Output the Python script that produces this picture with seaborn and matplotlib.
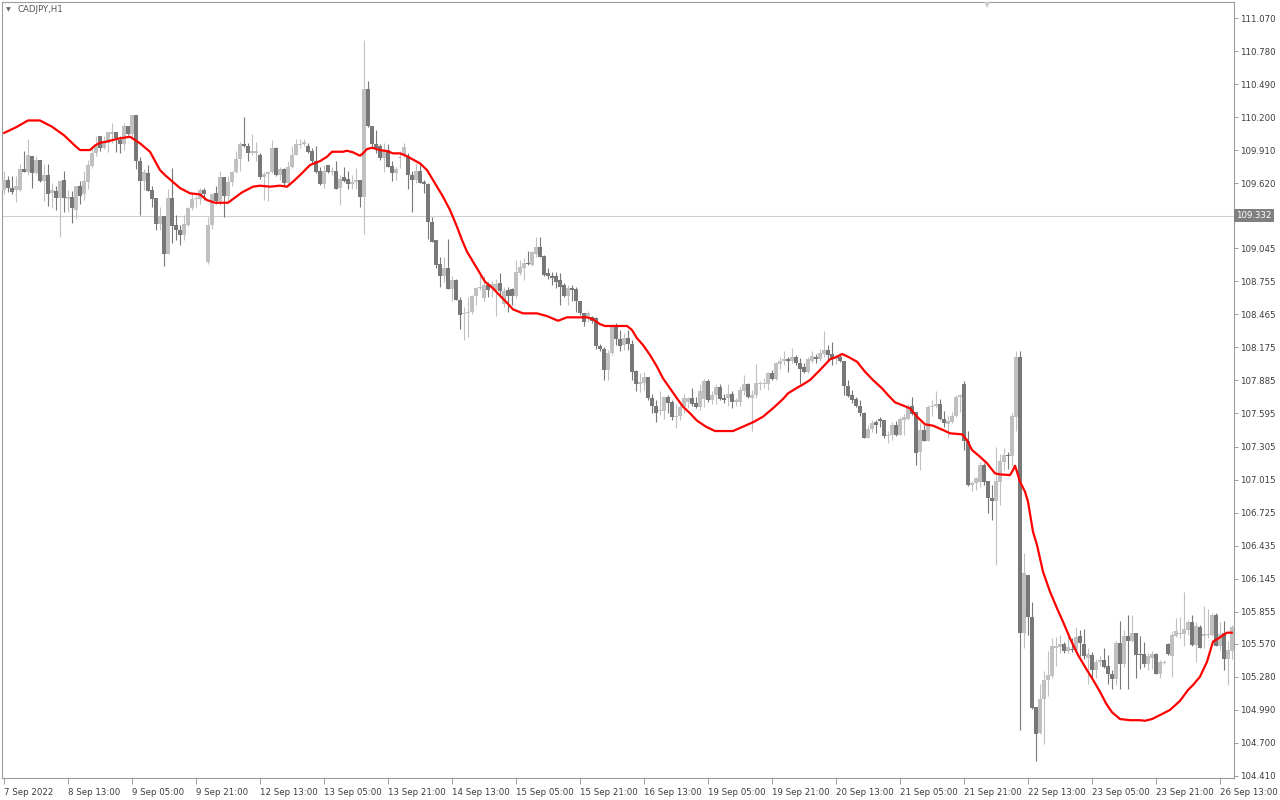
import matplotlib
matplotlib.use('Agg')
import matplotlib.pyplot as plt
import matplotlib.transforms as mtransforms
import numpy as np
import pandas as pd
import seaborn as sns

# ── CADJPY H1 bars, bar 0 = 7 Sep 2022 21:00 ────────────────────────────────
opens = [
    109.56, 109.65, 109.58, 109.56, 109.56, 109.74, 109.72, 109.86, 109.71, 109.82,
    109.64, 109.69, 109.53, 109.55, 109.49, 109.65, 109.48, 109.50, 109.38, 109.59,
    109.52, 109.63, 109.77, 109.88, 110.03, 109.93, 109.97, 110.05, 110.07, 110.00,
    109.96, 110.12, 110.05, 110.22, 109.81, 109.64, 109.71, 109.56, 109.49, 109.26,
    109.33, 109.00, 109.49, 109.25, 109.21, 109.16, 109.25, 109.40, 109.48, 109.48,
    109.56, 108.93, 109.25, 109.53, 109.46, 109.67, 109.51, 109.63, 109.72, 109.83,
    109.96, 109.95, 109.88, 109.88, 109.87, 109.67, 109.70, 109.72, 109.93, 109.69,
    109.74, 109.62, 109.76, 109.87, 109.955, 109.96, 109.95, 109.90, 109.81, 109.73,
    109.61, 109.78, 109.72, 109.73, 109.58, 109.67, 109.66, 109.61, 109.63, 109.65,
    109.50, 110.45, 110.12, 109.96, 109.945, 109.84, 109.91, 109.77, 109.71, 109.84,
    109.87, 109.86, 109.69, 109.65, 109.73, 109.63, 109.61, 109.28, 109.12, 108.91,
    108.80, 108.87, 108.69, 108.77, 108.59, 108.47, 108.475, 108.49, 108.63, 108.70,
    108.61, 108.72, 108.71, 108.68, 108.74, 108.56, 108.68, 108.69, 108.63, 108.83,
    108.87, 108.92, 108.90, 109.00, 109.06, 108.98, 108.83, 108.80, 108.80, 108.77,
    108.72, 108.63, 108.70, 108.69, 108.58, 108.48, 108.44, 108.44, 108.43, 108.19,
    108.16, 107.98, 108.13, 108.36, 108.25, 108.20, 108.26, 108.21, 107.97, 107.85,
    107.86, 107.92, 107.73, 107.66, 107.62, 107.62, 107.74, 107.70, 107.56, 107.57,
    107.65, 107.70, 107.73, 107.69, 107.65, 107.72, 107.88, 107.71, 107.76, 107.83,
    107.73, 107.73, 107.77, 107.70, 107.70, 107.79, 107.85, 107.73, 107.76, 107.85,
    107.85, 107.85, 107.95, 107.90, 108.03, 108.06, 108.07, 108.06, 108.09, 108.04,
    108.00, 107.96, 108.06, 108.09, 108.07, 108.12, 108.15, 108.12, 108.07, 108.09,
    108.06, 107.84, 107.76, 107.72, 107.66, 107.60, 107.38, 107.46, 107.52, 107.55,
    107.54, 107.40, 107.41, 107.49, 107.41, 107.54, 107.55, 107.66, 107.61, 107.26,
    107.45, 107.35, 107.65, 107.66, 107.68, 107.55, 107.50, 107.52, 107.57, 107.74,
    107.85, 107.35, 106.97, 106.98, 106.99, 107.14, 107.00, 106.85, 106.83, 106.99,
    107.17, 107.23, 107.22, 107.56, 108.09, 105.67, 106.18, 105.81, 105.02, 104.79,
    105.09, 105.25, 105.29, 105.53, 105.54, 105.57, 105.51, 105.525, 105.52, 105.64,
    105.57, 105.45, 105.47, 105.34, 105.41, 105.43, 105.38, 105.31, 105.26, 105.58,
    105.39, 105.64, 105.60, 105.67, 105.48, 105.48, 105.39, 105.45, 105.48, 105.31,
    105.40, 105.57, 105.46, 105.64, 105.66, 105.66, 105.69, 105.76, 105.56, 105.72,
    105.64, 105.65, 105.65, 105.82, 105.55, 105.67, 105.44, 105.51,
]
highs = [
    109.73, 109.68, 109.68, 109.68, 109.79, 109.90, 110.01, 109.86, 109.86, 109.82,
    109.79, 109.79, 109.62, 109.59, 109.65, 109.73, 109.56, 109.55, 109.59, 109.64,
    109.73, 109.82, 109.93, 110.03, 110.03, 110.03, 110.07, 110.15, 110.07, 110.03,
    110.15, 110.12, 110.22, 110.22, 109.85, 109.74, 109.78, 109.59, 109.49, 109.41,
    109.33, 109.57, 109.75, 109.34, 109.25, 109.34, 109.41, 109.53, 109.51, 109.58,
    109.58, 109.32, 109.53, 109.59, 109.73, 109.67, 109.68, 109.73, 109.90, 109.98,
    110.20, 109.97, 110.05, 109.98, 109.88, 109.72, 109.73, 110.00, 109.94, 109.76,
    109.75, 109.81, 109.95, 110.01, 110.01, 110.01, 109.97, 109.93, 109.95, 109.76,
    109.78, 109.78, 109.76, 109.81, 109.69, 109.76, 109.73, 109.69, 109.75, 109.65,
    110.88, 110.52, 110.12, 110.09, 109.96, 109.97, 109.96, 109.81, 109.76, 109.90,
    109.97, 109.88, 109.73, 109.80, 109.79, 109.65, 109.62, 109.32, 109.12, 108.97,
    108.97, 109.13, 108.80, 108.78, 108.62, 108.53, 108.62, 108.64, 108.71, 108.83,
    108.80, 108.75, 108.76, 108.78, 108.83, 108.71, 108.71, 108.70, 108.94, 108.94,
    108.96, 109.02, 109.02, 109.15, 109.15, 108.99, 108.87, 108.84, 108.84, 108.83,
    108.74, 108.72, 108.72, 108.71, 108.58, 108.48, 108.50, 108.45, 108.44, 108.21,
    108.18, 108.15, 108.37, 108.39, 108.33, 108.30, 108.33, 108.24, 107.98, 107.95,
    107.96, 107.92, 107.77, 107.71, 107.79, 107.74, 107.76, 107.71, 107.68, 107.67,
    107.77, 107.74, 107.82, 107.74, 107.85, 107.90, 107.90, 107.79, 107.85, 107.85,
    107.77, 107.85, 107.79, 107.73, 107.83, 107.93, 107.86, 107.80, 108.03, 107.88,
    107.91, 107.96, 107.98, 108.05, 108.09, 108.14, 108.09, 108.17, 108.11, 108.08,
    108.04, 108.09, 108.14, 108.12, 108.16, 108.32, 108.20, 108.22, 108.12, 108.12,
    108.06, 107.89, 107.80, 107.74, 107.71, 107.61, 107.49, 107.54, 107.54, 107.56,
    107.54, 107.44, 107.52, 107.53, 107.56, 107.59, 107.68, 107.74, 107.61, 107.52,
    107.49, 107.67, 107.71, 107.79, 107.72, 107.62, 107.57, 107.61, 107.76, 107.77,
    107.88, 107.44, 107.00, 107.04, 107.17, 107.16, 107.00, 106.97, 107.30, 107.24,
    107.29, 107.26, 107.60, 108.14, 108.14, 106.37, 106.18, 105.94, 105.02, 105.22,
    105.33, 105.51, 105.62, 105.63, 105.65, 105.59, 105.65, 105.62, 105.72, 105.69,
    105.70, 105.53, 105.50, 105.44, 105.46, 105.53, 105.47, 105.34, 105.60, 105.77,
    105.69, 105.82, 105.82, 105.67, 105.64, 105.59, 105.49, 105.51, 105.49, 105.43,
    105.43, 105.58, 105.68, 105.80, 105.81, 106.03, 105.78, 105.82, 105.76, 105.74,
    105.90, 105.88, 105.84, 105.84, 105.76, 105.77, 105.60, 105.74,
]
lows = [
    109.52, 109.54, 109.52, 109.45, 109.55, 109.72, 109.69, 109.58, 109.70, 109.63,
    109.46, 109.42, 109.40, 109.38, 109.15, 109.37, 109.37, 109.27, 109.30, 109.44,
    109.47, 109.57, 109.75, 109.86, 109.90, 109.92, 109.89, 109.97, 109.89, 109.88,
    109.91, 110.04, 110.01, 109.74, 109.34, 109.56, 109.55, 109.41, 109.21, 109.21,
    108.89, 109.00, 109.09, 109.12, 109.08, 109.12, 109.24, 109.38, 109.41, 109.44,
    109.47, 108.91, 109.22, 109.44, 109.43, 109.32, 109.46, 109.59, 109.71, 109.73,
    109.94, 109.81, 109.87, 109.81, 109.66, 109.47, 109.46, 109.71, 109.68, 109.65,
    109.60, 109.61, 109.75, 109.87, 109.93, 109.95, 109.88, 109.79, 109.71, 109.60,
    109.58, 109.71, 109.69, 109.57, 109.43, 109.63, 109.57, 109.57, 109.57, 109.41,
    109.17, 110.11, 109.94, 109.88, 109.82, 109.72, 109.76, 109.64, 109.65, 109.75,
    109.84, 109.57, 109.37, 109.62, 109.62, 109.53, 109.13, 109.10, 108.87, 108.71,
    108.75, 108.69, 108.58, 108.59, 108.34, 108.24, 108.27, 108.47, 108.55, 108.68,
    108.58, 108.62, 108.62, 108.45, 108.62, 108.53, 108.49, 108.55, 108.61, 108.81,
    108.77, 108.90, 108.89, 108.97, 108.97, 108.80, 108.78, 108.72, 108.70, 108.55,
    108.62, 108.55, 108.58, 108.49, 108.46, 108.36, 108.40, 108.39, 108.16, 108.14,
    107.89, 107.89, 108.11, 108.20, 108.14, 108.15, 108.15, 107.89, 107.79, 107.78,
    107.80, 107.71, 107.60, 107.52, 107.58, 107.55, 107.60, 107.54, 107.47, 107.54,
    107.60, 107.64, 107.66, 107.64, 107.63, 107.65, 107.70, 107.68, 107.68, 107.71,
    107.69, 107.66, 107.64, 107.66, 107.66, 107.76, 107.73, 107.44, 107.73, 107.80,
    107.82, 107.80, 107.89, 107.89, 107.99, 108.02, 107.96, 108.04, 108.02, 107.85,
    107.95, 107.95, 108.04, 108.04, 108.06, 108.09, 108.06, 108.02, 108.03, 108.05,
    107.76, 107.74, 107.69, 107.65, 107.57, 107.38, 107.38, 107.43, 107.42, 107.48,
    107.38, 107.34, 107.36, 107.40, 107.41, 107.41, 107.54, 107.58, 107.14, 107.10,
    107.35, 107.35, 107.57, 107.64, 107.54, 107.48, 107.38, 107.51, 107.56, 107.61,
    107.27, 106.96, 106.91, 106.92, 106.95, 106.97, 106.72, 106.66, 106.26, 106.79,
    107.10, 107.11, 107.13, 107.44, 104.81, 105.53, 105.65, 105.00, 104.54, 104.78,
    104.69, 105.11, 105.27, 105.38, 105.49, 105.49, 105.49, 105.50, 105.50, 105.46,
    105.44, 105.22, 105.27, 105.27, 105.38, 105.36, 105.22, 105.17, 105.21, 105.17,
    105.37, 105.17, 105.59, 105.27, 105.35, 105.37, 105.34, 105.35, 105.31, 105.27,
    105.39, 105.47, 105.28, 105.63, 105.62, 105.55, 105.65, 105.55, 105.41, 105.53,
    105.53, 105.62, 105.64, 105.55, 105.52, 105.34, 105.21, 105.44,
]
closes = [
    109.65, 109.58, 109.54, 109.59, 109.74, 109.72, 109.87, 109.71, 109.82, 109.64,
    109.69, 109.52, 109.56, 109.49, 109.64, 109.49, 109.50, 109.40, 109.59, 109.51,
    109.64, 109.78, 109.88, 109.95, 109.93, 109.99, 110.07, 110.07, 110.02, 109.96,
    110.12, 110.05, 110.22, 109.81, 109.64, 109.72, 109.55, 109.48, 109.26, 109.33,
    109.00, 109.49, 109.24, 109.21, 109.16, 109.26, 109.40, 109.48, 109.49, 109.56,
    109.52, 109.25, 109.52, 109.46, 109.67, 109.51, 109.63, 109.72, 109.83, 109.96,
    109.95, 109.88, 109.90, 109.90, 109.67, 109.70, 109.72, 109.93, 109.69, 109.74,
    109.62, 109.76, 109.87, 109.96, 109.96, 109.98, 109.89, 109.81, 109.72, 109.61,
    109.73, 109.72, 109.73, 109.57, 109.66, 109.64, 109.61, 109.63, 109.65, 109.50,
    110.45, 110.12, 109.96, 109.93, 109.84, 109.91, 109.76, 109.71, 109.74, 109.85,
    109.94, 109.69, 109.65, 109.73, 109.62, 109.61, 109.28, 109.10, 108.90, 108.80,
    108.87, 108.69, 108.77, 108.59, 108.46, 108.48, 108.49, 108.63, 108.70, 108.705,
    108.72, 108.68, 108.73, 108.73, 108.67, 108.67, 108.63, 108.63, 108.84, 108.88,
    108.92, 108.91, 109.01, 109.06, 108.97, 108.81, 108.80, 108.79, 108.75, 108.71,
    108.63, 108.70, 108.68, 108.58, 108.48, 108.40, 108.48, 108.41, 108.19, 108.16,
    107.98, 108.13, 108.36, 108.25, 108.19, 108.26, 108.21, 107.96, 107.85, 107.87,
    107.92, 107.73, 107.66, 107.60, 107.63, 107.74, 107.69, 107.56, 107.57, 107.65,
    107.73, 107.73, 107.68, 107.65, 107.79, 107.88, 107.71, 107.76, 107.83, 107.72,
    107.71, 107.77, 107.70, 107.71, 107.80, 107.85, 107.74, 107.76, 107.86, 107.86,
    107.86, 107.95, 107.90, 108.04, 108.06, 108.07, 108.06, 108.09, 108.04, 107.99,
    107.96, 108.07, 108.10, 108.07, 108.13, 108.15, 108.11, 108.08, 108.09, 108.06,
    107.84, 107.75, 107.71, 107.66, 107.60, 107.38, 107.46, 107.51, 107.49, 107.53,
    107.40, 107.41, 107.49, 107.41, 107.55, 107.56, 107.65, 107.59, 107.25, 107.45,
    107.35, 107.65, 107.66, 107.68, 107.55, 107.51, 107.53, 107.57, 107.74, 107.76,
    107.35, 106.97, 106.98, 107.03, 107.14, 106.99, 106.85, 106.83, 107.00, 107.18,
    107.23, 107.22, 107.57, 108.09, 105.67, 106.19, 105.81, 105.01, 104.78, 105.09,
    105.25, 105.30, 105.55, 105.55, 105.57, 105.51, 105.54, 105.52, 105.63, 105.58,
    105.46, 105.48, 105.34, 105.41, 105.43, 105.37, 105.31, 105.26, 105.58, 105.39,
    105.64, 105.60, 105.67, 105.47, 105.47, 105.39, 105.46, 105.48, 105.31, 105.41,
    105.41, 105.48, 105.65, 105.68, 105.67, 105.70, 105.76, 105.56, 105.73, 105.53,
    105.66, 105.66, 105.82, 105.55, 105.66, 105.44, 105.52, 105.72,
]

# red moving average (bar position, price)
ma_bar = [
    0, 3, 6, 9, 12, 15, 18, 19, 21.5, 22.75, 24, 25.5, 28.5, 31.5, 34, 36.5, 39, 40.25,
    44, 46.5, 49, 50.75, 52.75, 56, 59.5, 62.25, 64, 66.5, 69, 70.75, 72.25, 74, 75.5,
    76.5, 79, 80.75, 82, 84.75, 85.75, 87.25, 89, 89.75, 90.75, 92, 94, 95.75, 97.25,
    99, 100.5, 104, 105.75, 107.25, 109.75, 111.5, 113.25, 114.5, 115.75, 117, 118.5,
    120.25, 122.25, 124, 125.75, 127.25, 129.75, 133.25, 135.75, 138.5, 140.75, 143.25,
    145.75, 147.25, 149, 150.25, 155.75, 157, 158.25, 159.75, 161.5, 163.25, 164.75,
    166.5, 168.25, 169.75, 171.5, 173.25, 175.5, 177.75, 182.25, 184.75, 187.25, 189.75,
    192.25, 194.75, 196, 198.25, 199.5, 201.5, 204, 206.5, 208.25, 209.5, 211, 213.25,
    215.25, 217.25, 219.5, 221, 222.75, 224, 225.5, 226.5, 228.25, 230.25, 232.25,
    234.75, 236.5, 239.5, 240.75, 242, 244, 245.75, 247.75, 249, 251.5, 252.25, 252.75,
    253.25, 254, 255.25, 256, 257.25, 258.25, 259.75, 261.5, 263.25, 264.75, 266.5,
    268.5, 270.75, 272.25, 274, 275.5, 277, 279, 281.5, 284, 285.25, 287, 289, 291.5,
    294, 296, 297.25, 299, 300.75, 302.25, 303.25, 304.5, 305.75, 307,
]
ma_val = [
    110.06, 110.11, 110.17, 110.17, 110.115, 110.04, 109.94, 109.91, 109.91, 109.95,
    109.974, 109.983, 110.01, 110.027, 109.969, 109.895, 109.734, 109.69,
    109.576, 109.53, 109.52, 109.47, 109.447, 109.447, 109.538, 109.588, 109.597,
    109.588, 109.597, 109.588, 109.632, 109.69, 109.743,
    109.778, 109.813, 109.851, 109.895, 109.895, 109.904, 109.89, 109.86, 109.881,
    109.919, 109.93, 109.91, 109.901, 109.881,
    109.881, 109.86, 109.793, 109.734, 109.647, 109.50, 109.383, 109.236, 109.119,
    109.017, 108.944, 108.856,
    108.753, 108.695, 108.63, 108.568, 108.51, 108.475, 108.475, 108.451, 108.41,
    108.44, 108.44,
    108.44, 108.423, 108.38, 108.364, 108.364, 108.329, 108.256, 108.197, 108.109,
    108.006, 107.904,
    107.816, 107.728, 107.655, 107.597, 107.532, 107.479, 107.441, 107.441, 107.479,
    107.518, 107.567,
    107.641, 107.722, 107.772, 107.821, 107.845, 107.889, 107.977, 108.071, 108.094,
    108.118, 108.094, 108.05,
    107.962, 107.889, 107.816, 107.757, 107.693, 107.676, 107.655, 107.64, 107.567,
    107.50, 107.488,
    107.45, 107.421, 107.412, 107.362, 107.274, 107.215, 107.157, 107.069, 107.06,
    107.054, 107.098, 107.136,
    107.083, 106.995, 106.908, 106.82, 106.556, 106.439, 106.205, 106.029, 105.883,
    105.765, 105.62,
    105.473, 105.34, 105.255, 105.15, 105.048, 104.97, 104.91, 104.90, 104.90,
    104.895, 104.91, 104.945, 104.99,
    105.07, 105.165, 105.209, 105.282, 105.414, 105.59, 105.611, 105.64, 105.669,
    105.669,
]

price_ticks = [
    111.070, 110.780, 110.490, 110.200, 109.910, 109.620, 109.045, 108.755, 108.465,
    108.175, 107.885, 107.595, 107.305, 107.015, 106.725, 106.435, 106.145, 105.855,
    105.570, 105.280, 104.990, 104.700, 104.410,
]
time_labels = [
    '7 Sep 2022', '8 Sep 13:00', '9 Sep 05:00', '9 Sep 21:00', '12 Sep 13:00',
    '13 Sep 05:00', '13 Sep 21:00', '14 Sep 13:00', '15 Sep 05:00', '15 Sep 21:00',
    '16 Sep 13:00', '19 Sep 05:00', '19 Sep 21:00', '20 Sep 13:00', '21 Sep 05:00',
    '21 Sep 21:00', '22 Sep 13:00', '23 Sep 05:00', '23 Sep 21:00', '26 Sep 13:00',
]
label_step = 16
bid_price = 109.332

UP_CLR = '#c0c0c0'
DOWN_CLR = '#787878'
MA_CLR = '#ff0000'
FRAME_CLR = '#9c9c9c'
TEXT_CLR = '#3c3c3c'

sns.set_style('white')
plt.rcParams['font.family'] = ['DejaVu Sans']

df = pd.DataFrame({'open': opens, 'high': highs, 'low': lows, 'close': closes})
df['bar'] = np.arange(len(df))
df['up'] = df['close'] >= df['open']
df['color'] = np.where(df['up'], UP_CLR, DOWN_CLR)
df['bottom'] = df[['open', 'close']].min(axis=1)
df['body'] = (df['close'] - df['open']).abs().clip(lower=0.009)

fig = plt.figure(figsize=(12.8, 8), dpi=100)
ax = fig.add_axes([2 / 1280, 22 / 800, 1232 / 1280, 776 / 800])
ax.set_xlim(-0.5, len(df) - 0.5)
ax.set_ylim(104.392, 111.211)

ax.axhline(bid_price, color='#cfcfcf', lw=0.8, zorder=0)

# candles: wicks then bodies
ax.vlines(df['bar'], df['low'], df['high'], colors=df['color'], lw=0.8, zorder=2)
ax.bar(df['bar'], df['body'], bottom=df['bottom'], width=0.78,
       color=df['color'], linewidth=0, zorder=3)

sns.lineplot(x=ma_bar, y=ma_val, color=MA_CLR, linewidth=1.6, sort=False,
             ax=ax, zorder=4)

# price scale on the right
ax.yaxis.tick_right()
ax.set_yticks(price_ticks)
ax.set_yticklabels([f'{p:.3f}' for p in price_ticks])
ax.tick_params(axis='y', direction='out', length=3, width=0.7, color=FRAME_CLR,
               labelsize=6.2, labelcolor=TEXT_CLR, pad=1.5)
ax.tick_params(axis='x', direction='out', length=4, width=0.7, color=FRAME_CLR,
               labelsize=6.2, labelcolor=TEXT_CLR, pad=3, bottom=True)
ax.set_xticks(range(0, len(df), label_step))
ax.set_xticklabels(time_labels)
for lbl in ax.get_xticklabels():
    lbl.set_horizontalalignment('left')
ax.set_xlabel('')
ax.set_ylabel('')

for sp in ax.spines.values():
    sp.set_color(FRAME_CLR)
    sp.set_linewidth(0.8)

# bid tag on the price scale
trans = mtransforms.blended_transform_factory(ax.transAxes, ax.transData)
ax.text(1.0015, bid_price, f'{bid_price:.3f}', transform=trans, ha='left', va='center',
        fontsize=6.2, color='white',
        bbox=dict(boxstyle='square,pad=0.25', facecolor='#7f7f7f', edgecolor='none'))

# symbol caption and chart-shift marker
fig.text(6 / 1280, 1 - 10 / 800, '\u25BC', fontsize=4.5, color='#6a6a6a', va='center')
fig.text(18 / 1280, 1 - 10 / 800, 'CADJPY,H1', fontsize=6.2, color='#555555', va='center')
fig.text(987 / 1280, 1 - 5 / 800, '\u25BC', fontsize=6, color='#cccccc',
         ha='center', va='center')

fig.savefig('out.png', dpi=100)
